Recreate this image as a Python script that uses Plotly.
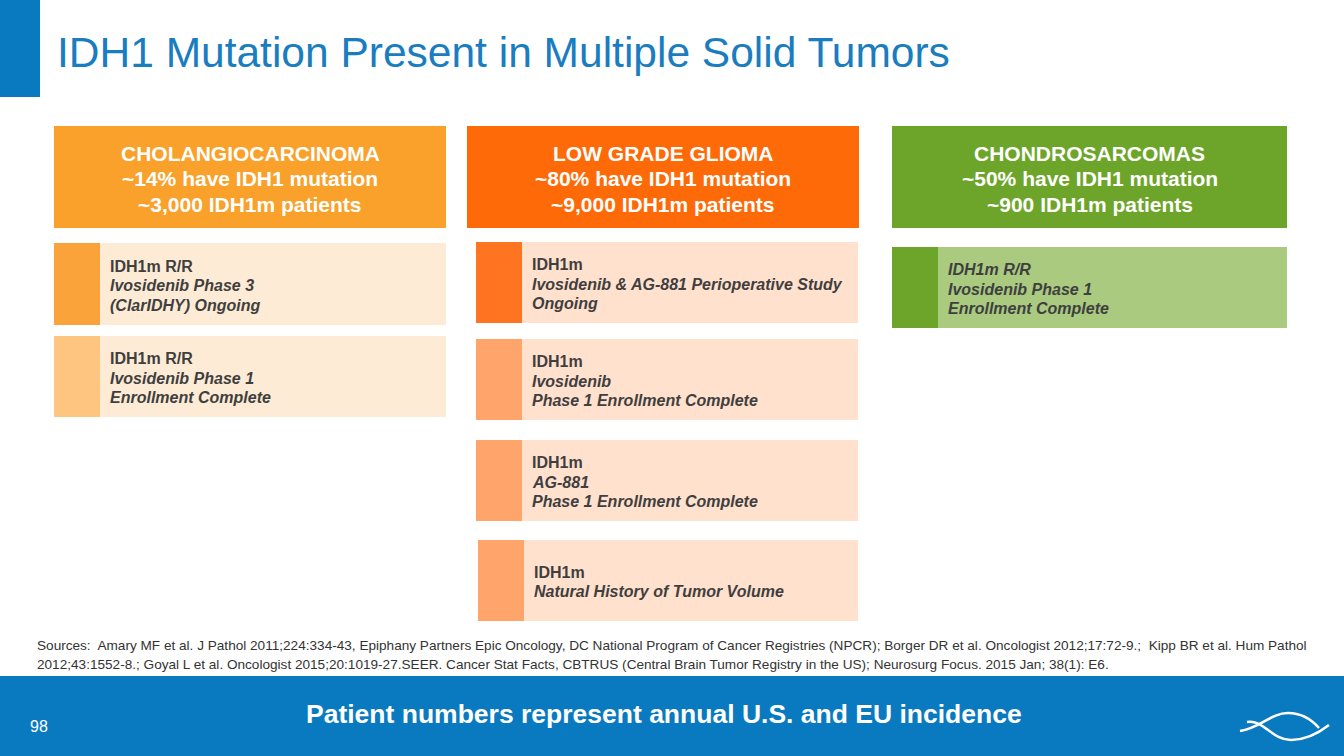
import plotly.graph_objects as go

# ---- data ----
tumor_types = ["CHOLANGIOCARCINOMA", "LOW GRADE GLIOMA", "CHONDROSARCOMAS"]
idh1_pct = [14, 80, 50]
idh1_patients = ["3,000", "9,000", "900"]
header_colors = ["#F9A12A", "#FF6A08", "#6DA52A"]

trial_column = [0, 0, 1, 1, 1, 1, 2]
trial_population = ["IDH1m R/R", "IDH1m R/R", "IDH1m", "IDH1m", "IDH1m", "IDH1m", "IDH1m R/R"]
trial_detail = [
    ["Ivosidenib Phase 3", "(ClarIDHY) Ongoing"],
    ["Ivosidenib Phase 1", "Enrollment Complete"],
    ["Ivosidenib & AG-881 Perioperative Study", "Ongoing"],
    ["Ivosidenib", "Phase 1 Enrollment Complete"],
    ["AG-881", "Phase 1 Enrollment Complete"],
    ["Natural History of Tumor Volume"],
    ["Ivosidenib Phase 1", "Enrollment Complete"],
]
trial_accent = ["#F9A33A", "#FDC57F", "#FF7420", "#FFA46A", "#FFA46A", "#FFA46A", "#6DA52A"]
trial_bg = ["#FEEBD5", "#FEEBD5", "#FFE1CE", "#FFE1CE", "#FFE1CE", "#FFE1CE", "#A9CA7F"]
trial_all_italic = [False, False, False, False, False, False, True]

title = "IDH1 Mutation Present in Multiple Solid Tumors"
sources = [
    "Sources:&nbsp; Amary MF et al. J Pathol 2011;224:334-43, Epiphany Partners Epic Oncology, DC National Program of Cancer Registries (NPCR); Borger DR et al. Oncologist 2012;17:72-9.;&nbsp; Kipp BR et al. Hum Pathol",
    "2012;43:1552-8.; Goyal L et al. Oncologist 2015;20:1019-27.SEER. Cancer Stat Facts, CBTRUS (Central Brain Tumor Registry in the US); Neurosurg Focus. 2015 Jan; 38(1): E6.",
]
footer = "Patient numbers represent annual U.S. and EU incidence"
page_number = "98"

# ---- layout geometry ----
BLUE = "#0A7AC0"
FONT = "Arial, Liberation Sans, sans-serif"
TEXT_DARK = "#3F3F3F"

header_boxes = [(54, 446), (467, 859), (892, 1287)]
header_y = (126, 228)
header_line_y = [153, 178.5, 204]
trial_boxes = [
    (54, 446, 243, 325),
    (54, 446, 336, 417),
    (476, 858, 242, 323),
    (476, 858, 339, 420),
    (476, 858, 440, 521),
    (478, 858, 540, 621),
    (892, 1287, 247, 328),
]
accent_w = 46
line_gap = 19.5

fig = go.Figure()
shapes = []
annotations = []

def rect(x0, x1, y0, y1, color):
    shapes.append(dict(type="rect", xref="x", yref="y", x0=x0, x1=x1, y0=y0, y1=y1,
                       fillcolor=color, line=dict(width=0), layer="below"))

def label(x, y, text, size, color, xanchor="left"):
    annotations.append(dict(x=x, y=y, xref="x", yref="y", text=text, showarrow=False,
                            xanchor=xanchor, yanchor="middle",
                            font=dict(family=FONT, size=size, color=color)))

# top-left accent bar
rect(0, 40, 0, 97, BLUE)
label(55, 52, title, 42.5, "#1A7DC0")

# headers
for i, name in enumerate(tumor_types):
    x0, x1 = header_boxes[i]
    rect(x0, x1, header_y[0], header_y[1], header_colors[i])
    lines = [name, f"~{idh1_pct[i]}% have IDH1 mutation", f"~{idh1_patients[i]} IDH1m patients"]
    for k, t in enumerate(lines):
        label((x0 + x1) / 2, header_line_y[k], f"<b>{t}</b>", 21, "white", xanchor="center")

# trial boxes
for i in range(len(trial_population)):
    x0, x1, y0, y1 = trial_boxes[i]
    rect(x0, x1, y0, y1, trial_bg[i])
    rect(x0, x0 + accent_w, y0, y1, trial_accent[i])
    first = trial_population[i]
    if trial_all_italic[i]:
        first = f"<i>{first}</i>"
    lines = [f"<b>{first}</b>"] + [f"<b><i>{d}</i></b>" for d in trial_detail[i]]
    n = len(lines)
    yc = (y0 + y1) / 2 + 1.5
    for k, t in enumerate(lines):
        label(x0 + accent_w + 8, yc + (k - (n - 1) / 2) * line_gap, t, 16, TEXT_DARK)

# sources
for j, line in enumerate(sources):
    label(35, 645 + j * 19, line, 13.6, "#333333")

# footer band
rect(0, 1344, 676, 756, BLUE)
label(664, 714, f"<b>{footer}</b>", 26.5, "white", xanchor="center")
label(28, 726, page_number, 16, "white")

# logo waves
shapes.append(dict(type="path", xref="x", yref="y",
                   path="M 1240 731 C 1260 728, 1271 713, 1288 713 C 1302 713, 1312 720, 1319 728",
                   line=dict(color="white", width=2.5)))
shapes.append(dict(type="path", xref="x", yref="y",
                   path="M 1247 722 C 1263 719, 1272 740, 1291 740 C 1306 740, 1320 732, 1329 725",
                   line=dict(color="white", width=2.5)))

fig.update_layout(
    width=1344, height=756,
    margin=dict(l=0, r=0, t=0, b=0),
    paper_bgcolor="white", plot_bgcolor="white",
    xaxis=dict(range=[0, 1344], visible=False, fixedrange=True),
    yaxis=dict(range=[756, 0], visible=False, fixedrange=True),
    shapes=shapes, annotations=annotations, showlegend=False,
)

fig.write_html("out.html", config={"displayModeBar": False},
               post_script="document.body.style.margin='0';document.body.style.overflow='hidden';")
